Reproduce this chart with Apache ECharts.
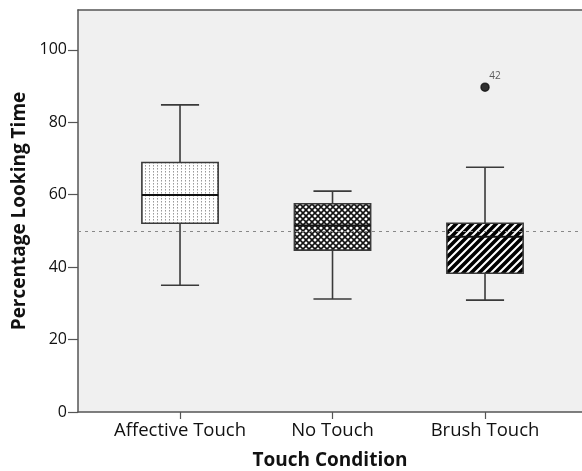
<!DOCTYPE html>
<html>
<head>
<meta charset="utf-8">
<script src="https://cdn.jsdelivr.net/npm/echarts@6/dist/echarts.min.js"></script>
<style>
html,body{margin:0;padding:0;background:#fff;}
#chart{width:582px;height:471px;}
</style>
</head>
<body>
<div id="chart"></div>
<script>
// ---- data ----
const categories = ['Affective Touch', 'No Touch', 'Brush Touch'];
const whiskerLow = [35.0, 31.2, 30.9];
const q1Values = [52.1, 44.7, 38.3];
const medianValues = [59.9, 51.5, 48.4];
const q3Values = [68.9, 57.5, 52.1];
const whiskerHigh = [84.8, 61.0, 67.6];
const outlierCategory = [2];
const outlierValues = [89.7];
const outlierLabels = ['42'];
const yTicks = [0, 20, 40, 60, 80, 100];
const referenceValue = 50;

// ---- patterns (styles) ----
function makePattern(kind) {
  const c = document.createElement('canvas');
  let s;
  if (kind === 'dots') {
    c.width = 4; c.height = 3;
    const g = c.getContext('2d');
    g.fillStyle = '#fff'; g.fillRect(0, 0, 4, 3);
    g.fillStyle = '#9a9a9a'; g.fillRect(1, 0, 1, 1);
    g.fillStyle = '#c8c8c8'; g.fillRect(1, 1, 1, 1);
    return c;
  }
  if (kind === 'cross') {
    s = 6; c.width = s; c.height = s;
    const g = c.getContext('2d');
    g.fillStyle = '#fff'; g.fillRect(0, 0, s, s);
    g.strokeStyle = '#111'; g.lineWidth = 1.6;
    g.beginPath();
    g.moveTo(0, 0); g.lineTo(s, s);
    g.moveTo(0, s); g.lineTo(s, 0);
    g.moveTo(-s / 2, s / 2); g.lineTo(s / 2, -s / 2);
    g.moveTo(s / 2, s * 1.5); g.lineTo(s * 1.5, s / 2);
    g.moveTo(-s / 2, s / 2); g.lineTo(s / 2, s * 1.5);
    g.moveTo(s / 2, -s / 2); g.lineTo(s * 1.5, s / 2);
    g.stroke();
    return c;
  }
  s = 8; c.width = s; c.height = s;
  const g = c.getContext('2d');
  g.fillStyle = '#fff'; g.fillRect(0, 0, s, s);
  g.strokeStyle = '#000'; g.lineWidth = 3.6;
  g.beginPath();
  g.moveTo(-s, s); g.lineTo(s, -s);
  g.moveTo(0, s); g.lineTo(s, 0);
  g.moveTo(0, 2 * s); g.lineTo(2 * s, 0);
  g.stroke();
  return c;
}
const patterns = [
  { image: makePattern('dots'), repeat: 'repeat' },
  { image: makePattern('cross'), repeat: 'repeat' },
  { image: makePattern('stripes'), repeat: 'repeat' }
];
const outlierPattern = { image: makePattern('stripes'), repeat: 'repeat' };

const boxData = categories.map((c, i) => [i, whiskerLow[i], q1Values[i], medianValues[i], q3Values[i], whiskerHigh[i]]);
const outlierData = outlierCategory.map((c, i) => [c, outlierValues[i]]);

const chart = echarts.init(document.getElementById('chart'), null, { renderer: 'canvas' });
const FONT = '"Open Sans", "DejaVu Sans", sans-serif';
const lineColor = '#3a3a3a';
const frameColor = '#555';

chart.setOption({
  backgroundColor: '#ffffff',
  animation: false,
  grid: {
    left: 78, top: 10, right: 0, bottom: 59,
    outerBoundsMode: 'none', containLabel: false,
    show: true, backgroundColor: '#f0f0f0', borderWidth: 0
  },
  xAxis: [{
    type: 'value', min: -0.669, max: 2.636,
    name: 'Touch Condition', nameLocation: 'middle', nameGap: 39,
    nameTextStyle: { fontFamily: FONT, fontSize: 19, fontWeight: 'bold', color: '#111' },
    axisLine: { show: true, onZero: false, lineStyle: { color: frameColor, width: 1.5 } },
    axisTick: { show: true, customValues: [0, 1, 2], length: 7, lineStyle: { color: frameColor, width: 1.2 } },
    axisLabel: {
      customValues: [0, 1, 2], margin: 9,
      formatter: v => categories[Math.round(v)] || '',
      fontFamily: FONT, fontSize: 18.5, color: '#111'
    },
    splitLine: { show: false }
  }, {
    type: 'value', position: 'top', min: -0.669, max: 2.636,
    axisLine: { show: true, onZero: false, lineStyle: { color: frameColor, width: 1.5 } },
    axisTick: { show: false }, axisLabel: { show: false }, splitLine: { show: false }
  }],
  yAxis: {
    type: 'value', min: 0, max: 111,
    name: 'Percentage Looking Time', nameLocation: 'middle', nameGap: 41,
    nameTextStyle: { fontFamily: FONT, fontSize: 19, fontWeight: 'bold', color: '#111' },
    axisLine: { show: true, onZero: false, lineStyle: { color: frameColor, width: 1.5 } },
    axisTick: { show: true, customValues: yTicks, length: 10, lineStyle: { color: frameColor, width: 1.2 } },
    axisLabel: {
      customValues: yTicks, margin: 11,
      fontFamily: FONT, fontSize: 16, color: '#111'
    },
    splitLine: { show: false }
  },
  series: [
    {
      type: 'custom',
      data: boxData,
      encode: { x: 0, y: [1, 2, 3, 4, 5] },
      markLine: {
        silent: true, symbol: 'none', label: { show: false },
        lineStyle: { color: '#888', type: [3, 4], width: 1 },
        data: [{ yAxis: referenceValue }]
      },
      renderItem: function (params, api) {
        const x = api.value(0);
        const idx = params.dataIndex;
        const pLow = api.coord([x, api.value(1)]);
        const pQ1 = api.coord([x, api.value(2)]);
        const pMed = api.coord([x, api.value(3)]);
        const pQ3 = api.coord([x, api.value(4)]);
        const pHigh = api.coord([x, api.value(5)]);
        const bw = api.size([0.5, 0])[0];
        const cw = api.size([0.25, 0])[0];
        const cx = pMed[0];
        const ls = { stroke: lineColor, lineWidth: 1.6 };
        return {
          type: 'group',
          children: [
            { type: 'line', shape: { x1: cx, y1: pLow[1], x2: cx, y2: pQ1[1] }, style: ls },
            { type: 'line', shape: { x1: cx, y1: pQ3[1], x2: cx, y2: pHigh[1] }, style: ls },
            { type: 'line', shape: { x1: cx - cw / 2, y1: pLow[1], x2: cx + cw / 2, y2: pLow[1] }, style: ls },
            { type: 'line', shape: { x1: cx - cw / 2, y1: pHigh[1], x2: cx + cw / 2, y2: pHigh[1] }, style: ls },
            {
              type: 'rect',
              shape: { x: cx - bw / 2, y: pQ3[1], width: bw, height: pQ1[1] - pQ3[1] },
              style: { fill: patterns[idx], stroke: lineColor, lineWidth: 1.6 }
            },
            { type: 'line', shape: { x1: cx - bw / 2, y1: pMed[1], x2: cx + bw / 2, y2: pMed[1] }, style: { stroke: '#111', lineWidth: 2 } }
          ]
        };
      }
    },
    {
      type: 'scatter',
      data: outlierData,
      symbol: 'circle', symbolSize: 8,
      itemStyle: { color: outlierPattern, borderColor: '#111', borderWidth: 1.5 },
      label: {
        show: true, position: [9, -11],
        formatter: p => outlierLabels[p.dataIndex],
        fontFamily: FONT, fontSize: 10, color: '#333'
      }
    }
  ]
});
</script>
</body>
</html>
